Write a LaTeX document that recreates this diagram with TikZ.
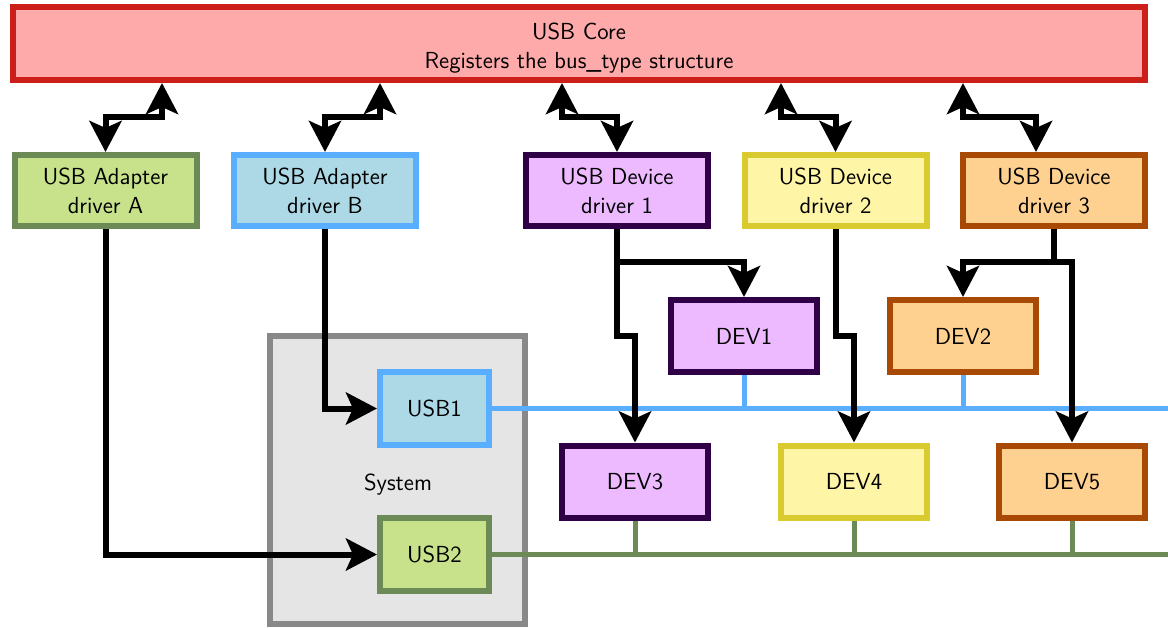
\documentclass[tikz,border=0pt]{standalone}
\usetikzlibrary{arrows.meta}
\definecolor{coreF}{HTML}{FFAAAA}
\definecolor{coreD}{HTML}{CD1F1A}
\definecolor{aF}{HTML}{C7E28B}
\definecolor{aD}{HTML}{6B8A55}
\definecolor{bF}{HTML}{ADD8E6}
\definecolor{bD}{HTML}{5AAEFF}
\definecolor{oneF}{HTML}{EDB9FF}
\definecolor{oneD}{HTML}{2F0046}
\definecolor{twoF}{HTML}{FFF5A6}
\definecolor{twoD}{HTML}{D9CA30}
\definecolor{thrF}{HTML}{FFD190}
\definecolor{thrD}{HTML}{A84A05}
\definecolor{sysF}{HTML}{E5E5E5}
\definecolor{sysD}{HTML}{888888}
\begin{document}
\begin{tikzpicture}[x=0.5pt,y=-0.5pt,
  box/.style={draw, line width=3pt, rectangle, align=center,
    font=\sffamily\fontsize{11.6}{14.5}\selectfont, inner sep=0pt},
  drv/.style={box, minimum width=91pt, minimum height=35.5pt},
  dev/.style={box, minimum width=73pt, minimum height=36pt},
  usb/.style={box, minimum width=54.5pt, minimum height=36.5pt},
  arr/.style={line width=3pt, -{Stealth[length=15.5pt,width=16pt,inset=3.5pt]}},
  dblarr/.style={line width=3pt, {Stealth[length=15.5pt,width=16pt,inset=3.5pt]}-{Stealth[length=15.5pt,width=16pt,inset=3.5pt]}},
  bus/.style={line width=2.5pt}
]
\useasboundingbox (0,0) rectangle (1168,628);

% System container
\draw[line width=3pt, draw=sysD, fill=sysF] (270,336) rectangle (525,624);
\node[font=\sffamily\fontsize{11.6}{14.5}\selectfont] (sys) at (398,485) {System};

% Core
\node[box, fill=coreF, draw=coreD, minimum width=566pt, minimum height=36.5pt] (core) at (579,43.5)
  {\rule{0pt}{13pt}USB Core\\Registers the bus\_type structure};

% Drivers
\node[drv, fill=aF, draw=aD] (A) at (105.5,190.5) {USB Adapter\\driver A};
\node[drv, fill=bF, draw=bD] (B) at (325,190.5) {USB Adapter\\driver B};
\node[drv, fill=oneF, draw=oneD] (D1) at (617,190.5) {USB Device\\driver 1};
\node[drv, fill=twoF, draw=twoD] (D2) at (835.5,190.5) {USB Device\\driver 2};
\node[drv, fill=thrF, draw=thrD] (D3) at (1054,190.5) {USB Device\\driver 3};

% USB controllers
\node[usb, fill=bF, draw=bD] (U1) at (434.5,408.5) {USB1};
\node[usb, fill=aF, draw=aD] (U2) at (434.5,554.5) {USB2};

% Devices
\node[dev, fill=oneF, draw=oneD] (V1) at (744,336) {DEV1};
\node[dev, fill=thrF, draw=thrD] (V2) at (963,336) {DEV2};
\node[dev, fill=oneF, draw=oneD] (V3) at (635,481.5) {DEV3};
\node[dev, fill=twoF, draw=twoD] (V4) at (854,481.5) {DEV4};
\node[dev, fill=thrF, draw=thrD] (V5) at (1072,481.5) {DEV5};

% Buses
\coordinate (bEnd) at (1175,408.5);
\coordinate (gEnd) at (1175,554.5);
\draw[bus, draw=bD] (U1.east) -- (bEnd);
\draw[bus, draw=bD] (V1.south) -- (V1.south |- U1.east);
\draw[bus, draw=bD] (V2.south) -- (V2.south |- U1.east);
\draw[bus, draw=aD] (U2.east) -- (gEnd);
\draw[bus, draw=aD] (V3.south) -- (V3.south |- U2.east);
\draw[bus, draw=aD] (V4.south) -- (V4.south |- U2.east);
\draw[bus, draw=aD] (V5.south) -- (V5.south |- U2.east);

% Core <-> drivers
\coordinate (ymid) at (0,117);
\coordinate (xA) at (162,0);
\coordinate (xB) at (380,0);
\coordinate (x1) at (562,0);
\coordinate (x2) at (781,0);
\coordinate (x3) at (963,0);
\coordinate (x3d) at (1036,0);
\draw[dblarr] (A.north) -- (A.north |- ymid) -| (core.south -| xA);
\draw[dblarr] (B.north) -- (B.north |- ymid) -| (core.south -| xB);
\draw[dblarr] (D1.north) -- (D1.north |- ymid) -| (core.south -| x1);
\draw[dblarr] (D2.north) -- (D2.north |- ymid) -| (core.south -| x2);
\draw[dblarr] (D3.north -| x3d) -- (x3d |- ymid) -| (core.south -| x3);

% Adapter drivers -> controllers
\draw[arr] (A.south) |- (U2.west);
\draw[arr] (B.south) |- (U1.west);

% Device drivers -> devices
\coordinate (yb) at (0,262);
\coordinate (yj) at (0,336);
\draw[arr] (D1.south) -- (D1.south |- yj) -| (V3.north);
\draw[arr] (D1.south |- yb) -| (V1.north);
\draw[arr] (D2.south) -- (D2.south |- yj) -| (V4.north);
\draw[line width=3pt] (D3.south) -- (D3.south |- yb);
\draw[arr] (D3.south |- yb) -| (V2.north);
\draw[arr] (D3.south |- yb) -| (V5.north);
\end{tikzpicture}
\end{document}
